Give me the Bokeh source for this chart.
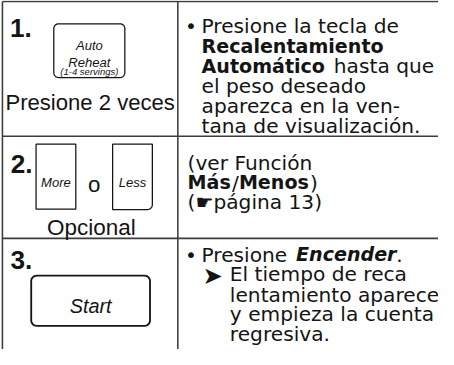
import math
from bokeh.plotting import figure
from bokeh.models import Range1d
from bokeh.embed import file_html
from bokeh.resources import INLINE
from bokeh.core.properties import value

# ---------------- content ----------------
STEP_NUMBERS = ["1.", "2.", "3."]
AUTO_KEY = ["Auto", "Reheat", "(1-4 servings)"]
STEP1_CAPTION = "Presione 2 veces"
OPTION_KEYS = ["More", "Less"]
OPTION_JOIN = "o"
STEP2_CAPTION = "Opcional"
START_KEY = "Start"
BULLET = "•"
ARROW = "➤"
STEP1_TEXT = ["Presione la tecla de", "Recalentamiento", "Automático", "hasta que",
              "el peso deseado", "aparezca en la ven-", "tana de visualización."]
STEP2_TEXT = ["(ver Función", "Más", "/", "Menos", ")", "(☛página 13)"]
STEP3_TEXT = ["Presione", "Encender", ".", "El tiempo de reca", "lentamiento aparece",
              "y empieza la cuenta", "regresiva."]

# ---------------- layout ----------------
W, H = 438, 349
X0, X1 = 0, 452
S = W / (X1 - X0)
Y0 = 1
Y1 = Y0 + H / S

INK = "#141414"
RULE = "#3c3c3c"
SANS = "Liberation Sans"
WIDE = "DejaVu Sans"
REG = 20.8
BOLD = 19.7

p = figure(width=W, height=H, x_range=Range1d(X0, X1), y_range=Range1d(Y1, Y0),
           output_backend="svg", toolbar_location=None, min_border=0,
           x_axis_location=None, y_axis_location=None)
p.grid.visible = False
p.outline_line_color = None
p.background_fill_color = "white"
p.border_fill_color = "white"


def txt(x, y, s, size, font=SANS, style="normal", align="left"):
    p.text(x=[x], y=[y], text=[s], text_font=value(font),
           text_font_size=f"{size * S:.2f}px", text_font_style=style,
           text_align=align, text_baseline="alphabetic", text_color=INK)


def rbox(x0, y0, x1, y1, radii=(0, 0, 0, 0), lw=1.3):
    tl, tr, br, bl = radii
    xs, ys = [], []
    specs = [((x0 + tl, y0 + tl), tl, 180, 270),
             ((x1 - tr, y0 + tr), tr, 270, 360),
             ((x1 - br, y1 - br), br, 0, 90),
             ((x0 + bl, y1 - bl), bl, 90, 180)]
    for (cx, cy), r, a0, a1 in specs:
        n = 8 if r > 0 else 1
        for k in range(n + 1 if r > 0 else 1):
            a = math.radians(a0 + (a1 - a0) * (k / n if r > 0 else 0))
            xs.append(cx + r * math.cos(a))
            ys.append(cy + r * math.sin(a))
    p.patch(xs, ys, fill_color="white", line_color=INK, line_width=lw * S)


# table rules
p.segment(x0=[2, 2, 2, 2, 183], y0=[2, 141, 246.5, 2, 2],
          x1=[460, 460, 460, 2, 183], y1=[2, 141, 246.5, 400, 400],
          line_color=RULE, line_width=1.6 * S)

# step numbers
for lab, (x, y) in zip(STEP_NUMBERS, [(9.8, 29.5), (10.5, 169.5), (10.3, 268.5)]):
    txt(x, y, lab, 27, style="bold")

# step 1 key
rbox(55, 25, 128.3, 80.5, radii=(5, 5, 5, 5))
for lab, y, sz in zip(AUTO_KEY, [47.8, 64.6, 74.2], [13.5, 13.5, 9.8]):
    txt(91.7, y, lab, sz, style="italic", align="center")
txt(92.5, 106, STEP1_CAPTION, 22.8, align="center")

# step 2 keys
rbox(36.7, 149.3, 77.7, 216.3, radii=(0, 0, 0, 0))
rbox(115.7, 149.3, 156.7, 216.7, radii=(0, 0, 5, 0))
txt(57.2, 189.3, OPTION_KEYS[0], 13.5, style="italic", align="center")
txt(136.2, 189.3, OPTION_KEYS[1], 13.5, style="italic", align="center")
txt(96.7, 190.7, OPTION_JOIN, 23, align="center")
txt(93.8, 235, STEP2_CAPTION, 23.2, align="center")

# step 3 key
rbox(31.7, 285, 154.3, 336.7, radii=(5.5, 5.5, 5.5, 5.5), lw=1.9)
txt(93, 316.7, START_KEY, 20.5, style="italic", align="center")

# step 1 instructions
txt(190.5, 27, BULLET, REG, font=WIDE)
txt(207.5, 27, STEP1_TEXT[0], REG, font=WIDE)
txt(207.5, 48, STEP1_TEXT[1], BOLD, font=WIDE, style="bold")
txt(207.5, 68.8, STEP1_TEXT[2], BOLD, font=WIDE, style="bold")
txt(344, 68.8, STEP1_TEXT[3], REG, font=WIDE)
txt(207.5, 89.5, STEP1_TEXT[4], REG, font=WIDE)
txt(207.5, 110, STEP1_TEXT[5], REG, font=WIDE)
txt(207.5, 130.5, STEP1_TEXT[6], REG, font=WIDE)

# step 2 instructions
txt(193, 168.5, STEP2_TEXT[0], REG, font=WIDE)
txt(193, 189.3, STEP2_TEXT[1], BOLD, font=WIDE, style="bold")
txt(239, 189.3, STEP2_TEXT[2], REG, font=WIDE)
txt(246, 189.3, STEP2_TEXT[3], BOLD, font=WIDE, style="bold")
txt(319.5, 189.3, STEP2_TEXT[4], REG, font=WIDE)
txt(193, 208.5, STEP2_TEXT[5], REG, font=WIDE)

# step 3 instructions
txt(190.5, 263.5, BULLET, REG, font=WIDE)
txt(207.5, 263.5, STEP3_TEXT[0], REG, font=WIDE)
txt(305, 263.5, STEP3_TEXT[1], BOLD, font=WIDE, style="bold italic")
txt(408.5, 263.5, STEP3_TEXT[2], REG, font=WIDE)
txt(208.5, 285, ARROW, 25, font=WIDE)
txt(236.7, 283.5, STEP3_TEXT[3], REG, font=WIDE)
txt(236.7, 304.5, STEP3_TEXT[4], REG, font=WIDE)
txt(236.7, 325, STEP3_TEXT[5], REG, font=WIDE)
txt(236.7, 345.5, STEP3_TEXT[6], REG, font=WIDE)

open("out.html", "w").write(file_html(p, INLINE))
